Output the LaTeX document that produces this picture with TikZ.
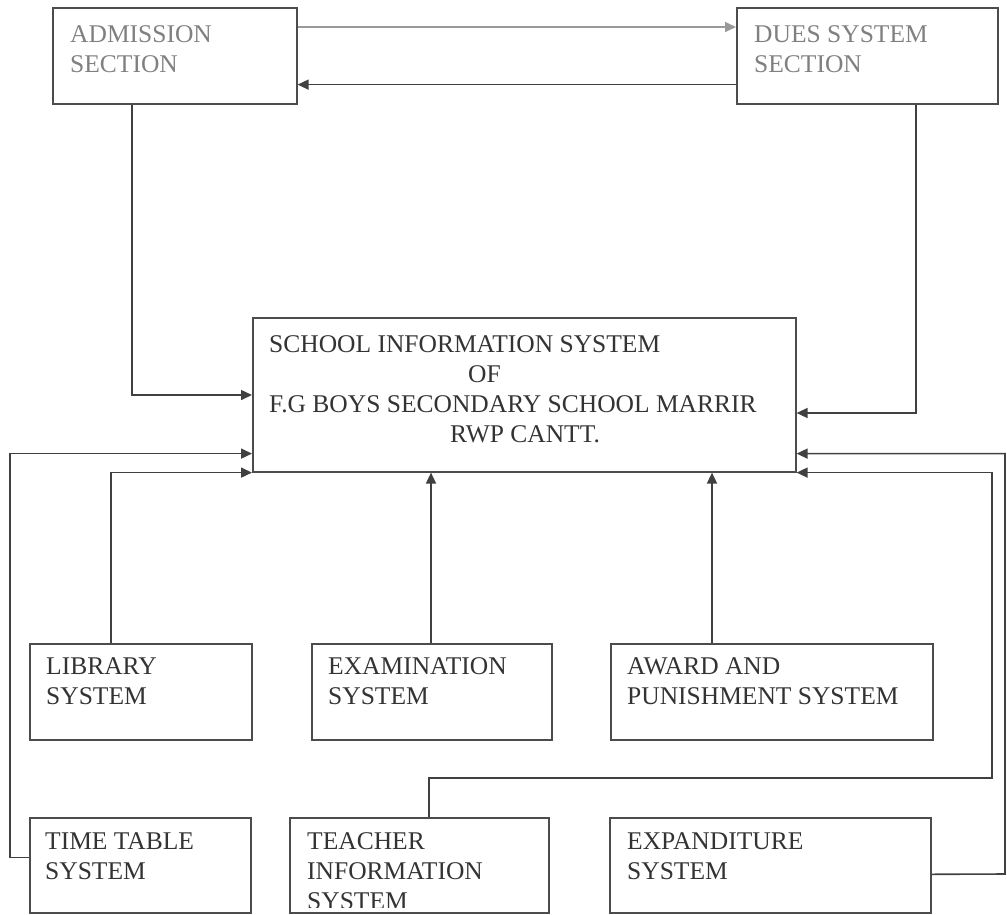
\documentclass[tikz,border=0pt]{standalone}
\usepackage{fontspec}
\setmainfont{Liberation Serif}
\usetikzlibrary{arrows.meta, positioning}

\begin{document}
\begin{tikzpicture}[x=1pt, y=-1pt,
  box/.style={rectangle, draw=black!70, line width=1.6pt, anchor=north west, inner sep=0pt},
  txt/.style={anchor=north west, inner sep=0pt, align=left, text=black!80, font=\fontsize{25.5}{30}\selectfont},
  pale/.style={txt, text=black!50},
  arr/.style={-{Triangle[length=11pt, width=10pt]}, line width=1.6pt, black!75},
  parr/.style={arr, black!40}]
\useasboundingbox (0,0) rectangle (1007,914);
\node[box, minimum width=244pt, minimum height=96pt] (adm) at (52,7) {};
\node[box, minimum width=261pt, minimum height=96pt] (dues) at (736,7) {};
\node[box, minimum width=543pt, minimum height=154pt] (sis) at (252,317) {};
\node[box, minimum width=222pt, minimum height=96pt] (lib) at (29,643) {};
\node[box, minimum width=240pt, minimum height=96pt] (exam) at (311,643) {};
\node[box, minimum width=322pt, minimum height=96pt] (award) at (610,643) {};
\node[box, minimum width=221pt, minimum height=95pt] (time) at (29,817) {};
\node[box, minimum width=259pt, minimum height=95pt] (teach) at (289,817) {};
\node[box, minimum width=321pt, minimum height=95pt] (expd) at (609,817) {};
\node[pale] (admtxt) at (70,25) {ADMISSION\\SECTION};
\node[pale] (duestxt) at (754,25) {DUES SYSTEM\\SECTION};
\node[txt] (sistxt) at (269,335) {SCHOOL INFORMATION SYSTEM\\\hspace*{199pt}OF\\F.G BOYS SECONDARY SCHOOL MARRIR\\\hspace*{181pt}RWP CANTT.};
\node[txt] (libtxt) at (46,657) {LIBRARY\\SYSTEM};
\node[txt] (examtxt) at (328,657) {EXAMINATION\\SYSTEM};
\node[txt] (awardtxt) at (627,657) {AWARD AND\\PUNISHMENT SYSTEM};
\node[txt] (timetxt) at (45,832) {TIME TABLE\\SYSTEM};
\begin{scope}
  \clip (teach.north west) rectangle ([yshift=6pt]teach.south east);
  \node[txt] (teachtxt) at (307,832) {TEACHER\\INFORMATION\\SYSTEM};
\end{scope}
\node[txt] (expdtxt) at (627,832) {EXPANDITURE\\SYSTEM};
\coordinate (examtop) at ([xshift=120pt]exam.north west);
\coordinate (awardtop) at ([xshift=102pt]award.north west);
\coordinate (rt) at (992,778);
\coordinate (re) at (1005,874);
\draw[parr] ([yshift=-20pt]adm.north east) -- ([yshift=-20pt]dues.north west);
\draw[arr] ([yshift=20pt]dues.south west) -- ([yshift=20pt]adm.south east);
\draw[arr] ([xshift=80pt]adm.south west) |- ([yshift=-78pt]sis.north west);
\draw[arr] ([xshift=180pt]dues.south west) |- ([yshift=-96pt]sis.north east);
\draw[arr] ([yshift=8pt]time.west) -- ++(-19pt,0) |- ([yshift=19pt]sis.south west);
\draw[arr] ([xshift=82pt]lib.north west) |- (sis.south west);
\draw[arr] (examtop) -- (examtop |- sis.south);
\draw[arr] (awardtop) -- (awardtop |- sis.south);
\draw[arr] ([xshift=140pt]teach.north west) |- (rt) |- (sis.south east);
\draw[arr] ([yshift=-9pt]expd.east) -- (re) |- ([yshift=19pt]sis.south east);
\end{tikzpicture}
\end{document}
